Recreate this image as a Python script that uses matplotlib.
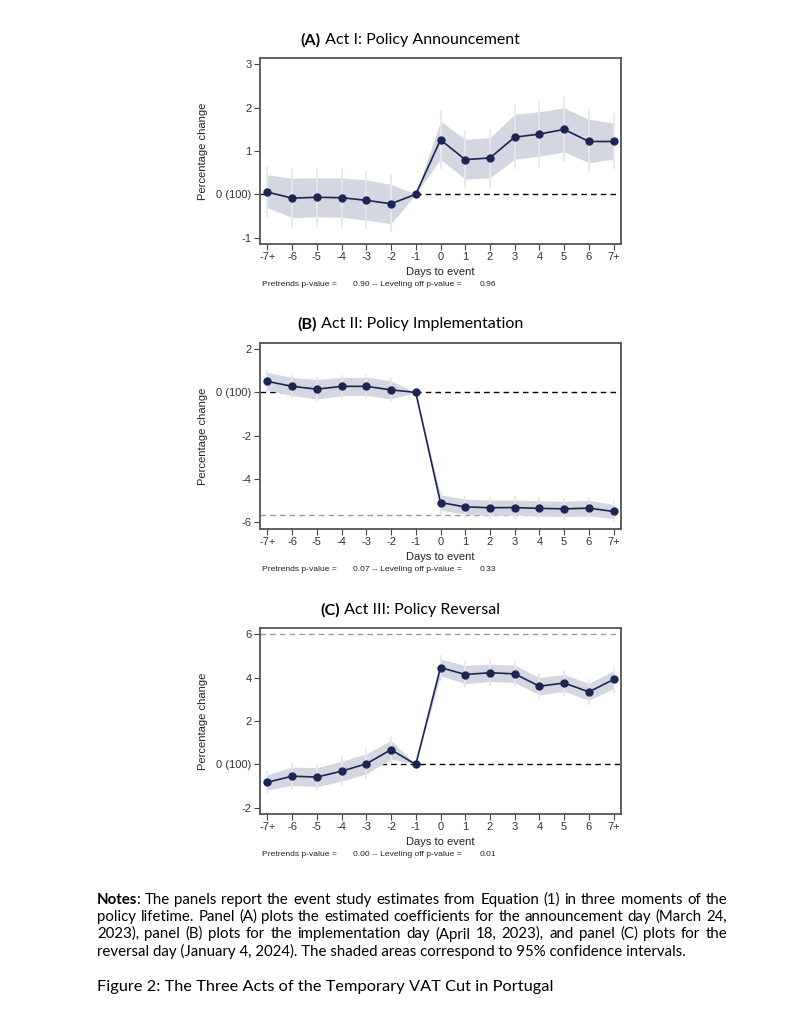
import numpy as np
import matplotlib
matplotlib.use("Agg")
import matplotlib.pyplot as plt

# event days and tick labels
days = list(range(-7, 8))
day_labels = ['-7+', '-6', '-5', '-4', '-3', '-2', '-1', '0', '1', '2', '3', '4', '5', '6', '7+']

# Panel A: announcement
a_coef = [0.05, -0.09, -0.07, -0.08, -0.14, -0.22, 0, 1.26, 0.80, 0.84, 1.32, 1.39, 1.50, 1.22, 1.22]
a_band_hi = [0.45, 0.37, 0.38, 0.38, 0.33, 0.23, 0, 1.69, 1.27, 1.31, 1.85, 1.91, 2.00, 1.73, 1.65]
a_band_lo = [-0.31, -0.54, -0.52, -0.53, -0.60, -0.68, 0, 0.81, 0.35, 0.38, 0.81, 0.88, 0.98, 0.73, 0.81]
a_bar_hi = [0.65, 0.58, 0.60, 0.60, 0.54, 0.46, 0, 1.94, 1.48, 1.52, 2.08, 2.15, 2.27, 1.98, 1.87]
a_bar_lo = [-0.54, -0.77, -0.75, -0.76, -0.80, -0.88, 0, 0.58, 0.14, 0.15, 0.58, 0.63, 0.75, 0.48, 0.59]

# Panel B: implementation
b_coef = [0.51, 0.28, 0.15, 0.28, 0.28, 0.12, 0, -5.08, -5.28, -5.32, -5.31, -5.35, -5.37, -5.34, -5.49]
b_band_hi = [0.92, 0.69, 0.60, 0.69, 0.70, 0.54, 0, -4.72, -4.92, -4.97, -4.96, -5.00, -5.02, -4.98, -5.17]
b_band_lo = [0.12, -0.15, -0.30, -0.15, -0.14, -0.30, 0, -5.44, -5.62, -5.67, -5.66, -5.70, -5.72, -5.70, -5.81]
b_bar_hi = [1.05, 0.82, 0.73, 0.82, 0.83, 0.67, 0, -4.55, -4.76, -4.81, -4.80, -4.84, -4.86, -4.82, -5.02]
b_bar_lo = [-0.01, -0.28, -0.43, -0.28, -0.27, -0.43, 0, -5.61, -5.80, -5.83, -5.82, -5.86, -5.88, -5.86, -5.96]

# Panel C: reversal
c_coef = [-0.82, -0.54, -0.58, -0.31, 0.03, 0.68, 0, 4.46, 4.14, 4.22, 4.17, 3.60, 3.75, 3.34, 3.91]
c_band_hi = [-0.46, -0.12, -0.15, 0.15, 0.49, 1.11, 0, 4.85, 4.56, 4.62, 4.57, 4.00, 4.14, 3.73, 4.32]
c_band_lo = [-1.17, -0.96, -1.02, -0.77, -0.43, 0.25, 0, 4.08, 3.72, 3.82, 3.77, 3.20, 3.36, 2.95, 3.50]
c_bar_hi = [-0.28, 0.06, 0.04, 0.37, 0.72, 1.33, 0, 5.06, 4.77, 4.83, 4.78, 4.21, 4.35, 3.94, 4.54]
c_bar_lo = [-1.36, -1.15, -1.21, -0.99, -0.66, 0.03, 0, 3.86, 3.51, 3.61, 3.56, 2.99, 3.15, 2.74, 3.28]

titles = ["(A)", "(B)", "(C)"]
subtitles = [" Act I: Policy Announcement", " Act II: Policy Implementation", " Act III: Policy Reversal"]
yticks = [[3, 2, 1, 0, -1], [2, 0, -2, -4, -6], [6, 4, 2, 0, -2]]
ylims = [(-1.15, 3.15), (-6.3, 2.28), (-2.28, 6.28)]
full_pass = [None, -5.65, 6.0]      # gray dashed line
zero_start = [-7.3, -7.3, -4]       # where the black zero line starts
pvals = [("0.90", "0.96"), ("0.07", "0.33"), ("0.00", "0.01")]

coefs = [a_coef, b_coef, c_coef]
bands = [(a_band_lo, a_band_hi), (b_band_lo, b_band_hi), (c_band_lo, c_band_hi)]
bars = [(a_bar_lo, a_bar_hi), (b_bar_lo, b_bar_hi), (c_bar_lo, c_bar_hi)]

notes_lines = [
    "The panels report the event study estimates from Equation (1) in three moments of the",
    "policy lifetime. Panel (A) plots the estimated coefficients for the announcement day (March 24,",
    "2023), panel (B) plots for the implementation day (April 18, 2023), and panel (C) plots for the",
    "reversal day (January 4, 2024). The shaded areas correspond to 95% confidence intervals.",
]
caption = 'Figure 2: The Three Acts of the Temporary VAT Cut in Portugal'

navy = '#1b2652'
band_col = '#d4d7e1'
bar_col = '#e7e8ee'
spine_col = '#555555'
stata_font = 'Liberation Sans'
tex_font = 'Lato'

W, H = 797, 1024
fig = plt.figure(figsize=(W / 100, H / 100), dpi=100)
r = fig.canvas.get_renderer()


def text_width(s, size, weight='normal'):
    t = fig.text(0, 0, s, fontsize=size, weight=weight, family=tex_font)
    w = t.get_window_extent(r).width
    t.remove()
    return w


ax_bottoms = [244, 529, 814]
title_y = [40, 324, 610]
title_size = 10.5 * 221 / (text_width(titles[0], 10.5, 'bold') + text_width(subtitles[0], 10.5))

for k in range(3):
    ax = fig.add_axes([260 / W, 1 - ax_bottoms[k] / H, 361 / W, 186 / H])
    lo, hi = bands[k]
    blo, bhi = bars[k]
    if full_pass[k] is not None:
        ax.axhline(full_pass[k], color='#9a9a9a', lw=1.0, ls=(0, (4, 3)), zorder=1)
    ax.hlines(0, zero_start[k], 7.3, color='black', lw=1.0, linestyles=[(0, (4, 3))], zorder=1)
    ax.fill_between(days, lo, hi, color=band_col, lw=0, zorder=2)
    ax.vlines(days, blo, bhi, color=bar_col, lw=1.3, zorder=3)
    ax.plot(days, coefs[k], color=navy, lw=1.2, marker='o', ms=5, zorder=4)

    ax.set_xlim(-7.3, 7.3)
    ax.set_ylim(*ylims[k])
    ax.set_xticks(days)
    ax.set_xticklabels(day_labels)
    ax.set_yticks(yticks[k])
    ax.set_yticklabels(['0 (100)' if t == 0 else str(t) for t in yticks[k]])
    ax.tick_params(length=4, width=0.8, color='#444444', labelsize=8, pad=2, labelcolor='#333333')
    for lab in ax.get_xticklabels() + ax.get_yticklabels():
        lab.set_family(stata_font)
    for s in ax.spines.values():
        s.set_color(spine_col)
        s.set_linewidth(1.3)

    ax.text(-0.158, 0.5, 'Percentage change', transform=ax.transAxes, rotation=90,
            ha='center', va='center', fontsize=8, family=stata_font, color='#222222')
    ax.text(0.5, -0.15, 'Days to event', transform=ax.transAxes, ha='center', va='center',
            fontsize=8, family=stata_font, color='#222222')
    ax.text(0.0055, -0.22, 'Pretrends p-value =', transform=ax.transAxes, ha='left', va='center',
            fontsize=6.1, family=stata_font, color='#222222')
    ax.text(0.258, -0.22, pvals[k][0] + ' -- Leveling off p-value =', transform=ax.transAxes,
            ha='left', va='center', fontsize=6.1, family=stata_font, color='#222222')
    ax.text(0.609, -0.22, pvals[k][1], transform=ax.transAxes, ha='left', va='center',
            fontsize=6.1, family=stata_font, color='#222222')

    # panel title: bold letter + regular text, centred as a whole
    w1 = text_width(titles[k], title_size, 'bold')
    w2 = text_width(subtitles[k], title_size)
    x0 = 410 - (w1 + w2) / 2
    fig.text(x0 / W, 1 - title_y[k] / H, titles[k], fontsize=title_size, weight='bold',
             family=tex_font, va='center')
    fig.text((x0 + w1) / W, 1 - title_y[k] / H, subtitles[k], fontsize=title_size,
             family=tex_font, va='center')

# notes, justified by hand between x=97 and x=727
notes_y = [900, 917, 934, 951]
left, right = 97, 727
ns = 9.5 * 590 / text_width(notes_lines[3], 9.5)
bold_w = text_width('Notes', ns, 'bold')
for i, line in enumerate(notes_lines):
    y = 1 - notes_y[i] / H
    x_start = left
    if i == 0:
        fig.text(left / W, y, 'Notes', fontsize=ns, weight='bold', family=tex_font, va='center')
        line = ':' + ' ' + line
        x_start = left + bold_w - 1
    if i == len(notes_lines) - 1:
        fig.text(x_start / W, y, line, fontsize=ns, family=tex_font, va='center')
        continue
    words = line.split(' ')
    natural = text_width(line, ns)
    extra = (right - x_start - natural) / (len(words) - 1)
    for j, w in enumerate(words):
        end = text_width(' '.join(words[:j + 1]), ns)
        pos = x_start + end - text_width(w, ns) + extra * j
        if j == 0:
            pos = x_start
        fig.text(pos / W, y, w, fontsize=ns, family=tex_font, va='center')

cs = 10 * 456 / text_width(caption, 10)
fig.text(97 / W, 1 - 987 / H, caption, fontsize=cs, family=tex_font, va='center')

fig.savefig('out.png', dpi=100)
